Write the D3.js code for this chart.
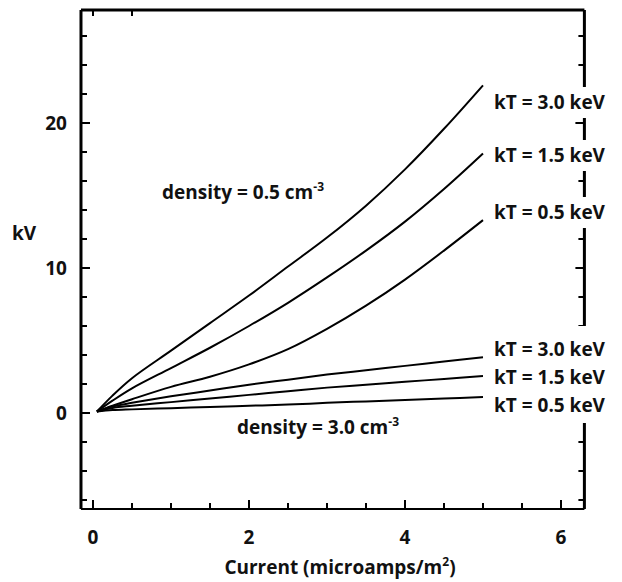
<!DOCTYPE html>
<html>
<head>
<meta charset="utf-8">
<script src="https://cdn.jsdelivr.net/npm/d3@7"></script>
<style>
  body { margin: 0; background: #fff; }
  text { font-family: "Open Sans", sans-serif; font-weight: 700; fill: #111; }
</style>
</head>
<body>
<div id="chart"></div>
<script>
var width = 622;
var height = 582;

// current values (microamps/m^2)
var currents = [0.05, 0.25, 0.5, 1, 1.5, 2, 2.5, 3, 3.5, 4, 4.5, 5];
// kV for density = 0.5 cm-3
var low3_0 = [0.1, 1.2, 2.4, 4.3, 6.2, 8.1, 10.1, 12.1, 14.3, 16.8, 19.6, 22.6];
var low1_5 = [0.1, 0.85, 1.7, 3.1, 4.5, 6.0, 7.6, 9.35, 11.2, 13.2, 15.45, 17.9];
var low0_5 = [0.1, 0.5, 0.95, 1.8, 2.5, 3.35, 4.4, 5.8, 7.4, 9.2, 11.2, 13.3];
// kV for density = 3.0 cm-3
var high3_0 = [0.1, 0.45, 0.7, 1.15, 1.55, 1.95, 2.3, 2.65, 2.95, 3.25, 3.55, 3.85];
var high1_5 = [0.1, 0.35, 0.5, 0.75, 1.0, 1.25, 1.5, 1.75, 1.95, 2.15, 2.35, 2.55];
var high0_5 = [0.1, 0.2, 0.25, 0.33, 0.42, 0.5, 0.58, 0.7, 0.8, 0.9, 1.0, 1.1];

var series = [low3_0, low1_5, low0_5, high3_0, high1_5, high0_5];
var kTLabels = ["kT = 3.0 keV", "kT = 1.5 keV", "kT = 0.5 keV"];

var xTicks = d3.range(0, 6.01, 0.5);
var xTopTicks = [0, 0.5];
var xLabels = [0, 2, 4, 6];
var yTicks = d3.range(-6, 26.1, 2);
var yLabels = [0, 10, 20];

var xMin = -0.154, xMax = 6.3, yMin = -6.62, yMax = 27.8;

var x = d3.scaleLinear().domain([0, 6]).range([93, 561]);
var y = d3.scaleLinear().domain([0, 20]).range([413, 123]);

var svg = d3.select("#chart").append("svg")
  .attr("width", width)
  .attr("height", height);

// curves
var line = d3.line()
  .x(function(d, i) { return x(currents[i]); })
  .y(function(d) { return y(d); })
  .curve(d3.curveCatmullRom.alpha(0.5));

svg.append("g")
  .selectAll("path")
  .data(series)
  .enter().append("path")
  .attr("d", line)
  .attr("fill", "none")
  .attr("stroke", "#000")
  .attr("stroke-width", 2);

// frame
var frame = svg.append("g").attr("stroke", "#000").attr("fill", "none");
frame.append("line").attr("x1", x(xMin)).attr("x2", x(xMax)).attr("y1", y(yMax)).attr("y2", y(yMax)).attr("stroke-width", 3);
frame.append("line").attr("x1", x(xMin)).attr("x2", x(xMax)).attr("y1", y(yMin)).attr("y2", y(yMin)).attr("stroke-width", 2);
frame.append("line").attr("x1", x(xMin)).attr("x2", x(xMin)).attr("y1", y(yMax)).attr("y2", y(yMin)).attr("stroke-width", 3);
frame.append("line").attr("x1", x(xMax)).attr("x2", x(xMax)).attr("y1", y(yMax)).attr("y2", y(yMin)).attr("stroke-width", 3);

// ticks
function tickLen(v, majors) { return majors.indexOf(v) >= 0 ? 9 : 6; }

var tk = svg.append("g").attr("stroke", "#000").attr("stroke-width", 2);
yTicks.forEach(function(v) {
  var L = tickLen(v, yLabels);
  tk.append("line").attr("x1", x(xMin)).attr("x2", x(xMin) + L).attr("y1", y(v)).attr("y2", y(v));
  tk.append("line").attr("x1", x(xMax)).attr("x2", x(xMax) - L).attr("y1", y(v)).attr("y2", y(v));
});
xTicks.forEach(function(v) {
  var L = tickLen(v, xLabels);
  tk.append("line").attr("x1", x(v)).attr("x2", x(v)).attr("y1", y(yMin)).attr("y2", y(yMin) - L);
});
xTopTicks.forEach(function(v) {
  tk.append("line").attr("x1", x(v)).attr("x2", x(v)).attr("y1", y(yMax)).attr("y2", y(yMax) + 6);
});

// tick labels
svg.append("g").selectAll("text")
  .data(yLabels)
  .enter().append("text")
  .attr("x", x(xMin) - 14)
  .attr("y", function(d) { return y(d) + 7; })
  .attr("text-anchor", "end")
  .style("font-size", "19px")
  .text(function(d) { return d; });

svg.append("g").selectAll("text")
  .data(xLabels)
  .enter().append("text")
  .attr("x", function(d) { return x(d); })
  .attr("y", 544)
  .attr("text-anchor", "middle")
  .style("font-size", "19px")
  .text(function(d) { return d; });

// axis titles
svg.append("text")
  .attr("x", 24).attr("y", 240)
  .attr("text-anchor", "middle")
  .style("font-size", "19px")
  .text("kV");

var xt = svg.append("text")
  .attr("x", 340).attr("y", 574)
  .attr("text-anchor", "middle")
  .style("font-size", "19px");
xt.append("tspan").text("Current (microamps/m");
xt.append("tspan").attr("dy", -8).style("font-size", "12px").text("2");
xt.append("tspan").attr("dy", 8).text(")");

// density labels
function densityLabel(tx, ty, val) {
  var t = svg.append("text").attr("x", tx).attr("y", ty).style("font-size", "19px");
  t.append("tspan").text("density = " + val + " cm");
  t.append("tspan").attr("dy", -8).style("font-size", "12px").text("-3");
}
densityLabel(162, 199, "0.5");
densityLabel(237, 434, "3.0");

// kT labels with white boxes over the right axis
var upperY = [102, 155, 212];
var lowerY = [349, 377, 405];
var lab = svg.append("g");
upperY.forEach(function(cy) {
  lab.append("rect").attr("x", 488).attr("y", cy - 15).attr("width", 134).attr("height", 31).attr("fill", "#fff");
});
lab.append("rect").attr("x", 488).attr("y", 326).attr("width", 134).attr("height", 97).attr("fill", "#fff");

upperY.concat(lowerY).forEach(function(cy, i) {
  lab.append("text")
    .attr("x", 494)
    .attr("y", cy + 7)
    .style("font-size", "19px")
    .text(kTLabels[i % 3]);
});
</script>
</body>
</html>
